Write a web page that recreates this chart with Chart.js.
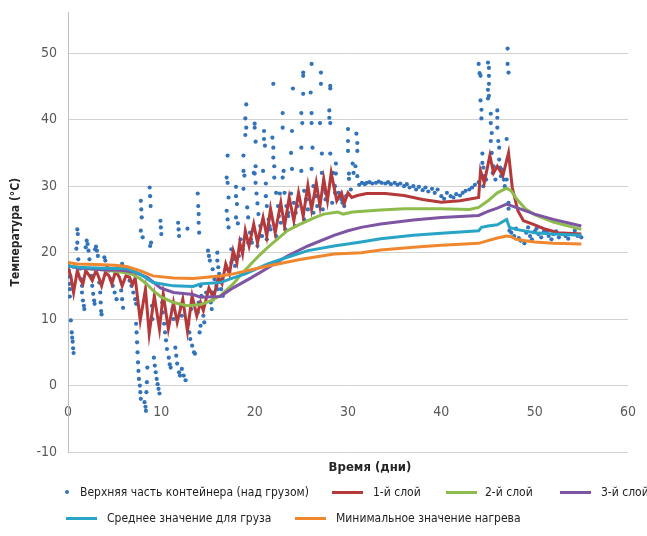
<!DOCTYPE html>
<html>
<head>
<meta charset="utf-8">
<script src="https://cdn.jsdelivr.net/npm/chart.js@4/dist/chart.umd.min.js"></script>
<style>
  body { margin: 0; background: #fff; }
  #wrap { position: relative; width: 647px; height: 536px; overflow: hidden; }
  .txt { position: absolute; white-space: nowrap; font-family: "DejaVu Sans Condensed", "Liberation Sans Narrow", Arial, sans-serif; color: #1e1e1e; }
  .leg { font-size: 12px; line-height: 16px; }
  .mk { position: absolute; width: 31px; height: 3px; }
  .dot { position: absolute; width: 4px; height: 4px; border-radius: 50%; }
</style>
</head>
<body>
<div id="wrap">
  <canvas id="chart" width="647" height="536"></canvas>
  <div class="txt" style="left:290px;top:458px;width:160px;text-align:center;font-size:13px;font-weight:bold;line-height:18px;color:#262626">Время (дни)</div>

  <div class="dot" style="left:65px;top:490px;background:#3273ba"></div>
  <div class="txt leg" style="left:80px;top:484px">Верхняя часть контейнера (над грузом)</div>
  <div class="mk" style="left:332px;top:491px;background:#b5393a"></div>
  <div class="txt leg" style="left:373px;top:484px">1-й слой</div>
  <div class="mk" style="left:446px;top:491px;background:#8dbb4c"></div>
  <div class="txt leg" style="left:485px;top:484px">2-й слой</div>
  <div class="mk" style="left:560px;top:491px;background:#7d55a3"></div>
  <div class="txt leg" style="left:601px;top:484px">3-й слой</div>

  <div class="mk" style="left:66px;top:517px;background:#28a4c6"></div>
  <div class="txt leg" style="left:107px;top:510px">Среднее значение для груза</div>
  <div class="mk" style="left:295px;top:517px;background:#f0872e"></div>
  <div class="txt leg" style="left:336px;top:510px">Минимальное значение нагрева</div>
</div>

<script>
// ---- data (day, °C) ----
const topPoints = [
  [0.05,18.4],[0.1,17.3],[0.1,16.4],[0.15,15.3],[0.2,14.5],[0.2,13.4],[0.3,9.8],[0.4,8],[0.45,7.2],[0.5,6.6],[0.55,5.6],[0.6,4.9],
  [0.9,20.6],[1.0,23.5],[1.05,22.8],[1.0,21.5],[1.1,19],[1.3,17.6],[1.4,16],[1.5,15],[1.5,14],[1.6,12.8],[1.7,12],[1.75,11.5],
  [1.9,20.8],[2.0,21.8],[2.1,21.3],[2.2,20.3],[2.3,19],[2.5,16.5],[2.6,15],[2.7,13.8],[2.8,12.8],[2.85,12.3],
  [2.9,20.5],[3.0,20.9],[3.1,20.3],[3.2,19.5],[3.35,15.5],[3.45,14],[3.5,12.5],[3.55,11.2],[3.6,10.7],
  [3.9,19.3],[4.0,18.8],[4.2,18],[4.4,17.3],[4.6,16],[4.8,15],[5.0,14],[5.2,13],
  [5.8,18.3],[5.9,17.5],[6.0,17.3],[5.7,14.3],[5.8,13],[5.9,11.7],
  [6.6,15.8],[6.8,15],[7.0,14],[7.2,13],[7.3,12.3],
  [7.3,9.3],[7.35,8],[7.4,6.5],[7.45,5],[7.5,3.5],[7.55,2.2],[7.6,1],[7.7,0],[7.75,-1],[7.8,-2],
  [7.8,27.8],[7.85,26.5],[7.9,25.3],[7.8,23.3],[8.0,22.3],
  [8.2,-2.5],[8.3,-3.2],[8.35,-3.8],[8.4,-1],[8.45,0.5],[8.5,2.7],
  [8.75,29.8],[8.8,28.5],[8.85,27],[8.9,21.5],[8.8,21],
  [9.0,12],[9.05,10],[9.2,4.2],[9.3,3],[9.4,2],[9.5,1],[9.6,0.2],[9.7,-0.5],[9.8,-1.2],
  [9.9,24.8],[9.95,23.8],[10.0,22.8],[10.1,12.5],[10.15,11],
  [10.3,9.3],[10.4,8],[10.5,6.8],[10.6,5.5],[10.8,4.2],[10.9,3.2],[11.0,2.7],
  [11.2,11.5],[11.3,10],[11.5,5.7],[11.6,4.5],[11.7,3.3],[11.9,2],[12.0,1.5],[12.2,2.5],[12.4,1.5],[12.6,0.8],
  [11.8,24.5],[11.85,23.5],[11.9,22.5],[12.1,12],[12.2,10.5],
  [12.8,23.6],[12.9,9.3],[13.0,8],[13.1,7],[13.2,11.5],[13.3,6],[13.5,5],[13.6,4.8],
  [13.9,28.9],[13.95,27],[14.0,25.8],[14.0,24.5],[14.05,23],
  [13.9,11],[14.0,12.5],[14.1,8],[14.2,9],[14.2,15],[14.3,13.5],[14.4,12],[14.5,10.5],[14.6,9.5],
  [14.8,14],[15.0,20.3],[15.1,19.5],[15.2,18.8],[15.3,12.5],[15.4,11.5],[15.5,17.5],[15.5,14],[15.7,16],[15.9,15],
  [16.0,18.8],[16.0,20],[16.1,17.8],[16.2,16.8],[16.0,14.5],[16.4,14.5],[16.5,16],[16.6,13.5],
  [17.0,31.3],[17.1,34.6],[17.1,30.5],[17.2,28.3],[17.0,26.3],[17.1,25],[17.2,23.8],[17.0,17.5],[17.5,20.5],[17.5,18.5],[17.7,19],[17.9,18],
  [18.0,29.9],[18.0,28.5],[18.1,27.3],[18.0,25.3],[18.2,24.4],[18.3,19.5],[18.5,22],[18.6,20.5],[18.7,20.5],
  [18.8,34.6],[18.8,32.3],[18.9,31.6],[18.8,29.6],[19.1,42.3],[19.0,40.2],[19.1,38.8],[19.0,37.7],[19.2,26.8],[19.3,25.3],[19.3,21.5],[19.5,23],[19.6,22],[19.7,21.5],
  [20.0,39.4],[20.0,38.8],[20.1,36.7],[20.1,33],[20.0,31.9],[19.9,32],[20.1,30.5],[20.2,28.9],[20.3,27.4],[20.3,21],[20.4,25.8],[20.6,24],[20.6,22.5],[20.8,22.5],
  [21.0,38.3],[21.0,37.1],[21.1,36.1],[20.9,32.3],[21.2,30.4],[21.2,28.5],[21.3,27],[21.3,22],[21.5,25],[21.6,24],[21.7,23.5],
  [22.0,45.4],[21.9,37.3],[22.0,35.8],[22.0,34.3],[22.1,33],[22.1,31.3],[22.3,29],[22.3,22.5],[22.5,27],[22.7,28.9],[22.6,25.5],[22.8,24.5],
  [23.0,41],[23.0,38.8],[23.1,32.3],[23.0,31.3],[23.2,29],[23.3,23.5],[23.4,27],[23.6,25.5],[23.6,26],
  [24.1,44.7],[24.0,38.3],[23.9,35],[24.0,32.6],[23.9,28.9],[24.2,27.5],[24.3,24],[24.4,26],[24.6,27],
  [25.2,47.1],[25.2,46.6],[25.2,43.9],[25.0,41],[25.1,39.5],[25.0,35.8],[25.0,32.3],[25.3,29.3],[25.3,25],[25.5,28],[25.7,26.5],[25.6,28],
  [26.1,48.4],[26.0,44.1],[26.1,41],[26.1,39.5],[26.2,35.8],[26.1,32.6],[26.3,30],[26.3,26],[26.5,28.5],[26.6,28.5],[26.7,27],
  [27.1,47.1],[27.1,45.4],[27.0,39.5],[27.2,34.9],[27.2,32],[27.3,26.5],[27.4,29.5],[27.6,28],[27.6,29],
  [28.1,45.1],[28.1,44.7],[28.0,41.4],[28.0,40.3],[28.1,39.5],[28.1,34.9],[28.3,27.5],[28.4,32],[28.6,30],[28.6,29],[28.7,33.4],[28.7,31.9],
  [29.0,29],[29.1,28.5],[29.3,28],[29.4,27.5],[29.6,27],[29.8,28.5],
  [30.0,38.6],[30.0,36.8],[30.0,35.3],[30.1,31.9],[30.1,31.1],[30.3,29.5],[30.5,33.4],[30.6,32],[30.9,37.9],[31.0,36.5],[31.0,35.3],[30.8,33],[31.0,31.5],
  [31.2,30.2],[31.5,30.5],[31.8,30.3],[32.0,30.5],[32.3,30.6],[32.6,30.4],[33.0,30.5],[33.3,30.7],[33.6,30.5],[34.0,30.4],
  [34.3,30.6],[34.6,30.3],[35.0,30.5],[35.3,30.2],[35.6,30.4],[36.0,30],[36.3,30.3],[36.6,29.8],[37.0,30],[37.3,29.5],
  [37.6,29.9],[38.0,29.4],[38.3,29.8],[38.6,29.2],[39.0,29.6],[39.3,29],[39.6,29.5],[40.0,28.5],[40.3,28.1],[40.6,29],
  [41.0,28.5],[41.3,28.3],[41.6,28.8],[42.0,28.6],[42.3,29],[42.6,29.3],[43.0,29.5],[43.3,29.8],[43.6,30.2],[44.0,30.6],
  [44.0,48.4],[44.1,47],[44.2,46.6],[44.2,42.9],[44.3,41.5],[44.3,40.2],[44.4,34.9],[44.4,33.5],[44.5,32.8],[44.5,30],[44.6,31.5],[44.8,31],
  [45.0,48.6],[45.1,47.8],[45.1,46.6],[45.1,45.4],[45.0,44.5],[45.1,43.6],[45.0,43.2],[45.3,40.9],[45.3,39.5],[45.4,38],[45.3,36.8],[45.4,35],[45.5,32],[45.6,33],[45.8,31],
  [46.0,41.4],[46.0,40.3],[46.0,38.8],[46.1,36.8],[46.2,35.8],[46.2,34],[46.3,32.8],[46.4,31.5],[46.5,32.5],[46.7,31],[46.8,30],
  [47.1,50.7],[47.1,48.4],[47.2,47.1],[47.0,37.1],[47.1,34],[47.0,31],[47.2,27.5],[47.2,26.6],[47.3,23.3],[47.5,23],[47.8,22.5],
  [48.0,23.6],[48.3,22.2],[48.5,21.8],[48.9,21.4],[49.1,23],[49.3,23.8],[49.5,22.5],[49.7,22],[50.0,23.2],[50.2,23.6],
  [50.4,22.8],[50.7,22.3],[51.0,23.2],[51.3,23],[51.5,22.5],[51.8,22],[52.0,22.8],[52.3,23.2],[52.6,22.3],[53.0,22.8],
  [53.3,22.5],[53.6,22.1],[54.0,22.8],[54.3,23.3],[54.6,22.5],[55.0,22.3]
];

const layer1 = [
  [0,17.7],[0.3,16.5],[0.6,14],[1.0,17.3],[1.3,16],[1.6,15.3],[1.9,17.3],[2.3,16.5],[2.6,15.8],[3.0,17.3],
  [3.3,16.3],[3.6,15],[4.0,17],[4.4,16.5],[4.7,15.3],[5.1,17.2],[5.5,16.3],[5.8,15],[6.2,16.5],[6.6,16.3],
  [6.9,15.2],[7.2,16.2],[7.74,9.8],[8.3,14.5],[8.7,7.8],[9.25,13.5],[9.8,8.5],[10.2,13.8],[10.75,8.5],[11.3,12.5],
  [11.7,9.5],[12.3,13],[12.8,8.2],[13.3,13.5],[13.8,10.5],[14.2,12.5],[14.5,11.3],[15.1,14.7],[15.6,13.2],[16.1,16.2],
  [16.5,15.3],[16.9,18.3],[17.3,16.8],[17.7,20.3],[18.1,18.5],[18.4,21.5],[18.7,19.8],[19.0,23.3],[19.4,21],[19.9,24.3],
  [20.3,21.5],[20.9,25.3],[21.3,22.5],[21.7,26.6],[22.2,23],[22.8,27.5],[23.2,24],[23.7,28.3],[24.2,24.8],[24.7,29],
  [25.2,25.5],[25.7,30.1],[26.1,26.5],[26.6,30.5],[27.0,27],[27.4,31.1],[27.8,27.8],[28.2,32],[28.8,27.8],[29.3,29],
  [29.6,27.4],[30.0,29],[30.4,28.3],[31,28.6],[32,28.9],[34,28.9],[36,28.6],[38,28],[40,27.6],[42,27.8],
  [44,28.3],[44.2,32.3],[44.6,30.5],[45.2,34.6],[45.6,32],[46.0,33],[46.6,31.6],[47.2,35],[47.6,29.8],[48.2,26.3],
  [48.8,24.8],[49.8,24.3],[51,23.6],[52.5,23],[55,22.8]
];

const layer2 = [
  [0,18],[1,17.8],[2,17.6],[3,17.5],[4,17.4],[5,17.2],[6,17],[6.8,16.8],[7.7,16.1],[8.5,15.2],
  [9.1,14.3],[10,13.3],[11.3,12.5],[12.8,12],[14.2,12.2],[15.2,12.7],[16.3,13.5],[17.7,15.3],[18.6,16.8],[19.6,18.3],
  [20.5,19.6],[21.4,20.8],[22.5,22.1],[23.5,23.3],[24.6,24.1],[25.7,24.8],[26.5,25.3],[27.4,25.8],[28.9,26.1],[29.5,25.8],
  [30.5,26.1],[33.5,26.4],[36,26.6],[40,26.6],[43,26.5],[44,26.8],[45,27.8],[46,29],[47,29.7],[47.5,29.3],
  [48,28.2],[49,26.6],[50,25.7],[52,24.6],[55,23.5]
];

const layer3 = [
  [0,18],[1,17.7],[2,17.6],[3,17.5],[4,17.4],[5,17.4],[6,17.3],[7,17.1],[8.5,16.3],[9.9,14.7],
  [11.3,14],[13.4,13.7],[14.2,13.3],[16.3,13.4],[17.7,14.7],[19.6,16.2],[21.4,17.7],[23.5,19.5],[25.7,21],[28.5,22.6],
  [30,23.3],[31.4,23.8],[33.5,24.3],[37,24.9],[40,25.3],[44,25.6],[45,26.2],[46,26.7],[47,27.3],[48,26.8],
  [50,25.8],[52,25],[55,24]
];

const cargoAvg = [
  [0,18],[1,17.8],[3,17.7],[5,17.6],[6.3,17.6],[7.7,16.8],[9.1,15.5],[11.3,15],[13.4,14.9],[14.2,15.3],
  [16.3,15.5],[17.7,16.2],[19,16.8],[21.4,18.3],[23.5,19.3],[25.7,20.3],[28.5,21],[31.4,21.6],[33.5,22.1],[37,22.6],
  [40,22.9],[44,23.3],[44.3,23.8],[45,24],[46,24.2],[47,25],[47.3,23.8],[48,23.5],[50,23],[52,22.8],[55,22.6]
];

const minHeat = [
  [0,18.5],[1,18.3],[3,18.2],[5,18.1],[6.3,17.9],[7.7,17.3],[9.1,16.5],[11.3,16.2],[13.4,16.1],[16.3,16.5],
  [17.7,16.8],[21.4,18],[25,19],[28.5,19.8],[31.4,20],[33.5,20.4],[37,20.8],[40,21.1],[44,21.4],[45,21.8],
  [46,22.2],[47,22.5],[47.5,22.4],[48,22],[49,21.8],[50,21.6],[52,21.4],[55,21.3]
];

const xTicks = [0, 10, 20, 30, 40, 50, 60];
const yTicks = [-10, 0, 10, 20, 30, 40, 50];

const FONT = '"DejaVu Sans Condensed", "Liberation Sans Narrow", Arial, sans-serif';
const toXY = arr => arr.map(p => ({ x: p[0], y: p[1] }));

function lineSet(label, pts, color, order) {
  return {
    label, data: toXY(pts), showLine: true,
    borderColor: color, backgroundColor: color, borderWidth: 3,
    pointRadius: 0, tension: 0, order
  };
}

new Chart(document.getElementById('chart'), {
  type: 'scatter',
  data: {
    datasets: [
      { label: 'Верхняя часть контейнера (над грузом)', data: toXY(topPoints),
        backgroundColor: '#3273ba', borderWidth: 0, pointRadius: 2.1, order: 6 },
      lineSet('1-й слой', layer1, '#b5393a', 5),
      lineSet('2-й слой', layer2, '#8dbb4c', 4),
      lineSet('3-й слой', layer3, '#7d55a3', 3),
      lineSet('Среднее значение для груза', cargoAvg, '#28a4c6', 2),
      lineSet('Минимальное значение нагрева', minHeat, '#f0872e', 1)
    ]
  },
  options: {
    responsive: false, animation: false, devicePixelRatio: 1,
    layout: { padding: { top: 10, right: 19, bottom: 84, left: 0 } },
    plugins: { legend: { display: false }, tooltip: { enabled: false } },
    scales: {
      x: {
        type: 'linear', position: { y: 0 }, min: 0, max: 60,
        afterBuildTicks: s => { s.ticks = xTicks.map(v => ({ value: v })); },
        afterFit: s => { s.height = 30; },
        ticks: { padding: 11, color: '#595959', font: { family: FONT, size: 14 } },
        grid: { display: false, drawTicks: true, tickLength: 7 }, border: { display: false }
      },
      y: {
        type: 'linear', min: -10, max: 56.15,
        afterBuildTicks: s => { s.ticks = yTicks.map(v => ({ value: v })); },
        afterFit: s => { s.width = 68; },
        ticks: { padding: 4, color: '#595959', font: { family: FONT, size: 14 } },
        grid: { color: '#d2d2d2', drawTicks: true, tickLength: 7, tickColor: 'rgba(0,0,0,0)' },
        border: { color: '#bfbfbf' },
        title: { display: true, text: 'Температура (°C)', color: '#262626',
                 padding: { top: 9, bottom: 0 }, font: { family: FONT, size: 12, weight: 'bold' } }
      }
    }
  }
});
</script>
</body>
</html>
